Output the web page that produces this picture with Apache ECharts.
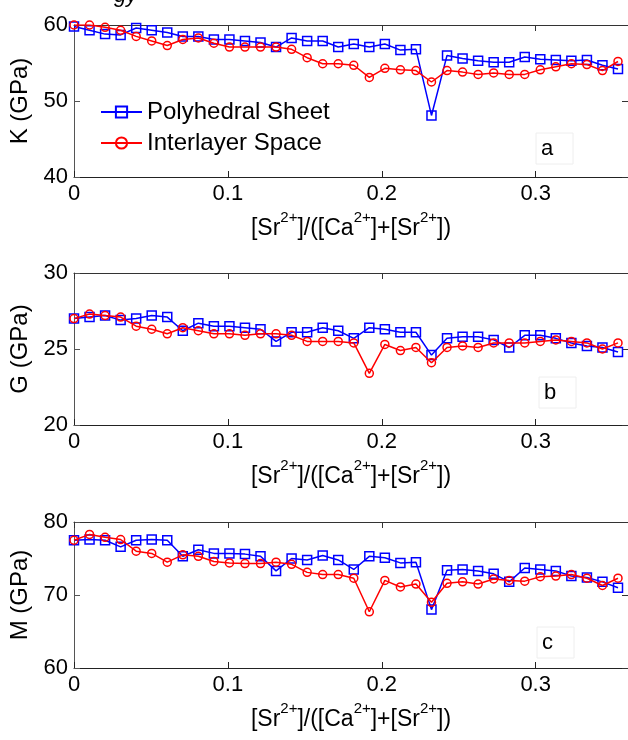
<!DOCTYPE html>
<html>
<head>
<meta charset="utf-8">
<script src="https://cdn.jsdelivr.net/npm/echarts@6/dist/echarts.min.js"></script>
<style>
html,body{margin:0;padding:0;background:#fff;}
#chart{width:628px;height:740px;}
</style>
</head>
<body>
<div id="chart"></div>
<script>
// Sr fraction (x) for every composition
const xVals = [0, 0.0101, 0.0202, 0.0303, 0.0404, 0.0505, 0.0606, 0.0707, 0.0808, 0.0909,
  0.1010, 0.1111, 0.1212, 0.1313, 0.1414, 0.1515, 0.1616, 0.1717, 0.1818, 0.1919,
  0.2020, 0.2121, 0.2222, 0.2323, 0.2424, 0.2525, 0.2626, 0.2727, 0.2828, 0.2929,
  0.3030, 0.3131, 0.3232, 0.3333, 0.3434, 0.3535];

// Panel a: bulk modulus K (GPa)
const kPoly = [59.8, 59.3, 58.8, 58.7, 59.6, 59.3, 59.0, 58.5, 58.5, 58.1,
  58.1, 57.9, 57.7, 57.1, 58.3, 57.9, 57.9, 57.1, 57.5, 57.1,
  57.5, 56.7, 56.8, 48.1, 56.0, 55.6, 55.3, 55.1, 55.1, 55.8,
  55.5, 55.4, 55.3, 55.4, 54.7, 54.2];
const kInter = [60.0, 60.0, 59.7, 59.3, 58.5, 57.9, 57.3, 58.1, 58.3, 57.6,
  57.1, 57.1, 57.1, 57.1, 56.8, 55.7, 54.9, 54.9, 54.7, 53.1,
  54.3, 54.1, 54.0, 52.5, 54.0, 53.8, 53.5, 53.7, 53.5, 53.5,
  54.1, 54.5, 54.9, 54.8, 54.0, 55.2];

// Panel b: shear modulus G (GPa)
const gPoly = [27.0, 27.1, 27.2, 26.9, 27.0, 27.2, 27.1, 26.2, 26.7, 26.5,
  26.5, 26.4, 26.3, 25.5, 26.1, 26.1, 26.4, 26.2, 25.7, 26.4,
  26.3, 26.1, 26.1, 24.6, 25.7, 25.8, 25.8, 25.6, 25.1, 25.9,
  25.9, 25.7, 25.4, 25.2, 25.1, 24.8];
const gInter = [27.0, 27.3, 27.2, 27.1, 26.5, 26.3, 26.0, 26.4, 26.2, 26.0,
  26.0, 25.9, 26.0, 26.0, 25.9, 25.5, 25.5, 25.5, 25.4, 23.4,
  25.3, 24.9, 25.1, 24.1, 25.1, 25.2, 25.1, 25.4, 25.4, 25.4,
  25.5, 25.6, 25.5, 25.4, 25.0, 25.4];

// Panel c: P-wave modulus M (GPa)
const mPoly = [77.5, 77.6, 77.5, 76.6, 77.5, 77.6, 77.5, 75.3, 76.2, 75.7,
  75.7, 75.6, 75.3, 73.3, 75.0, 74.8, 75.4, 74.8, 73.5, 75.3,
  75.1, 74.4, 74.5, 68.0, 73.4, 73.5, 73.3, 72.9, 71.8, 73.7,
  73.5, 73.3, 72.6, 72.4, 71.8, 71.0];
const mInter = [77.5, 78.3, 77.9, 77.6, 76.0, 75.7, 74.5, 75.5, 75.3, 74.6,
  74.4, 74.3, 74.3, 74.5, 74.2, 73.1, 72.8, 72.8, 72.3, 67.7,
  72.0, 71.1, 71.5, 69.0, 71.6, 71.8, 71.5, 72.2, 72.0, 71.9,
  72.5, 72.6, 72.8, 72.3, 71.3, 72.3];

const seriesNames = ['Polyhedral Sheet', 'Interlayer Space'];
const yNames = ['K (GPa)', 'G (GPa)', 'M (GPa)'];
const yMins = [40, 20, 60];
const yMaxs = [60, 30, 80];
const yIntervals = [10, 5, 10];
const panelLetters = ['a', 'b', 'c'];
const xMin = 0, xMax = 0.36, xInterval = 0.1;

const FONT = 'Liberation Sans, Arial, Helvetica, sans-serif';
const BLUE = '#0000ff', RED = '#ff0000';

const gridTops = [25, 273, 522];
const gridH = 152, gridLeft = 74, gridW = 555.5;

const panels = [[kPoly, kInter], [gPoly, gInter], [mPoly, mInter]];

const grid = [], xAxis = [], yAxis = [], series = [], graphic = [];
const xTitle = '[Sr{s|2+}]/([Ca{s|2+}]+[Sr{s|2+}])';

panels.forEach((pair, p) => {
  grid.push({left: gridLeft, top: gridTops[p], width: gridW, height: gridH, containLabel: false});
  // bottom x axis
  xAxis.push({
    type: 'value', gridIndex: p, min: xMin, max: xMax, interval: xInterval, position: 'bottom',
    name: xTitle, nameLocation: 'middle', nameGap: 33,
    nameTextStyle: {fontFamily: FONT, fontSize: 23, color: '#000', lineHeight: 38,
      rich: {s: {fontFamily: FONT, fontSize: 15, color: '#000', verticalAlign: 'top', lineHeight: 16}}},
    axisLine: {show: true, onZero: false, lineStyle: {color: '#222', width: 1}},
    axisTick: {show: true, inside: true, length: 6, lineStyle: {color: '#222'}},
    axisLabel: {fontFamily: FONT, fontSize: 22, color: '#000', margin: 6, showMaxLabel: false},
    splitLine: {show: false}
  });
  // top mirror axis
  xAxis.push({
    type: 'value', gridIndex: p, min: xMin, max: xMax, interval: xInterval, position: 'top',
    axisLine: {show: true, onZero: false, lineStyle: {color: '#333', width: 1}},
    axisTick: {show: true, inside: true, length: 6, lineStyle: {color: '#333'}},
    axisLabel: {show: false}, splitLine: {show: false}
  });
  yAxis.push({
    type: 'value', gridIndex: p, min: yMins[p], max: yMaxs[p], interval: yIntervals[p], position: 'left',
    name: yNames[p], nameLocation: 'middle', nameGap: 33, nameRotate: 90,
    nameTextStyle: {fontFamily: FONT, fontSize: 24, color: '#000'},
    axisLine: {show: true, onZero: false, lineStyle: {color: '#555', width: 1}},
    axisTick: {show: true, inside: true, length: 6, lineStyle: {color: '#555'}},
    axisLabel: {fontFamily: FONT, fontSize: 22, color: '#000', margin: 6},
    splitLine: {show: false}
  });
  yAxis.push({
    type: 'value', gridIndex: p, min: yMins[p], max: yMaxs[p], interval: yIntervals[p], position: 'right',
    axisLine: {show: true, onZero: false, lineStyle: {color: '#333', width: 1}},
    axisTick: {show: true, inside: true, length: 6, lineStyle: {color: '#333'}},
    axisLabel: {show: false}, splitLine: {show: false}
  });
  const colors = [BLUE, RED];
  const symbols = ['rect', 'circle'];
  const sizes = [9, 8];
  pair.forEach((vals, s) => {
    series.push({
      name: seriesNames[s], type: 'line', xAxisIndex: p * 2, yAxisIndex: p * 2,
      data: xVals.map((x, i) => [x, vals[i]]),
      symbol: symbols[s], symbolSize: sizes[s], showSymbol: true,
      color: colors[s],
      lineStyle: {color: colors[s], width: 1.5},
      itemStyle: {color: 'rgba(255,255,255,0)', borderColor: colors[s], borderWidth: 1.5},
      emphasis: {disabled: true}, animation: false, z: 2 + s
    });
  });
});

// panel letter boxes
const letterBoxes = [[536, 133], [539, 377], [537, 627]];
letterBoxes.forEach((b, i) => {
  graphic.push({type: 'rect', shape: {x: b[0], y: b[1], width: 37, height: 31},
    style: {fill: '#fff', stroke: '#eeeeee', lineWidth: 1}, z: 10});
  graphic.push({type: 'text', x: b[0] + 5, y: b[1] + 16,
    style: {text: panelLetters[i], font: '22px ' + FONT, fill: '#000', verticalAlign: 'middle', align: 'left'}, z: 11});
});
// fragment of a caption cropped at the top edge
graphic.push({type: 'text', x: 114, y: 7,
  style: {text: 'gy', font: 'italic 22px ' + FONT, fill: '#000', verticalAlign: 'bottom', align: 'left'}, z: 11});

const chart = echarts.init(document.getElementById('chart'), null, {renderer: 'canvas'});
chart.setOption({
  backgroundColor: '#fff',
  animation: false,
  grid, xAxis, yAxis, series, graphic,
  legend: {
    data: seriesNames, orient: 'vertical', left: 100, top: 100,
    itemWidth: 41, itemHeight: 14, itemGap: 7, padding: 0,
    textStyle: {fontFamily: FONT, fontSize: 24, color: '#000', lineHeight: 24},
    selectedMode: false
  }
});
</script>
</body>
</html>
